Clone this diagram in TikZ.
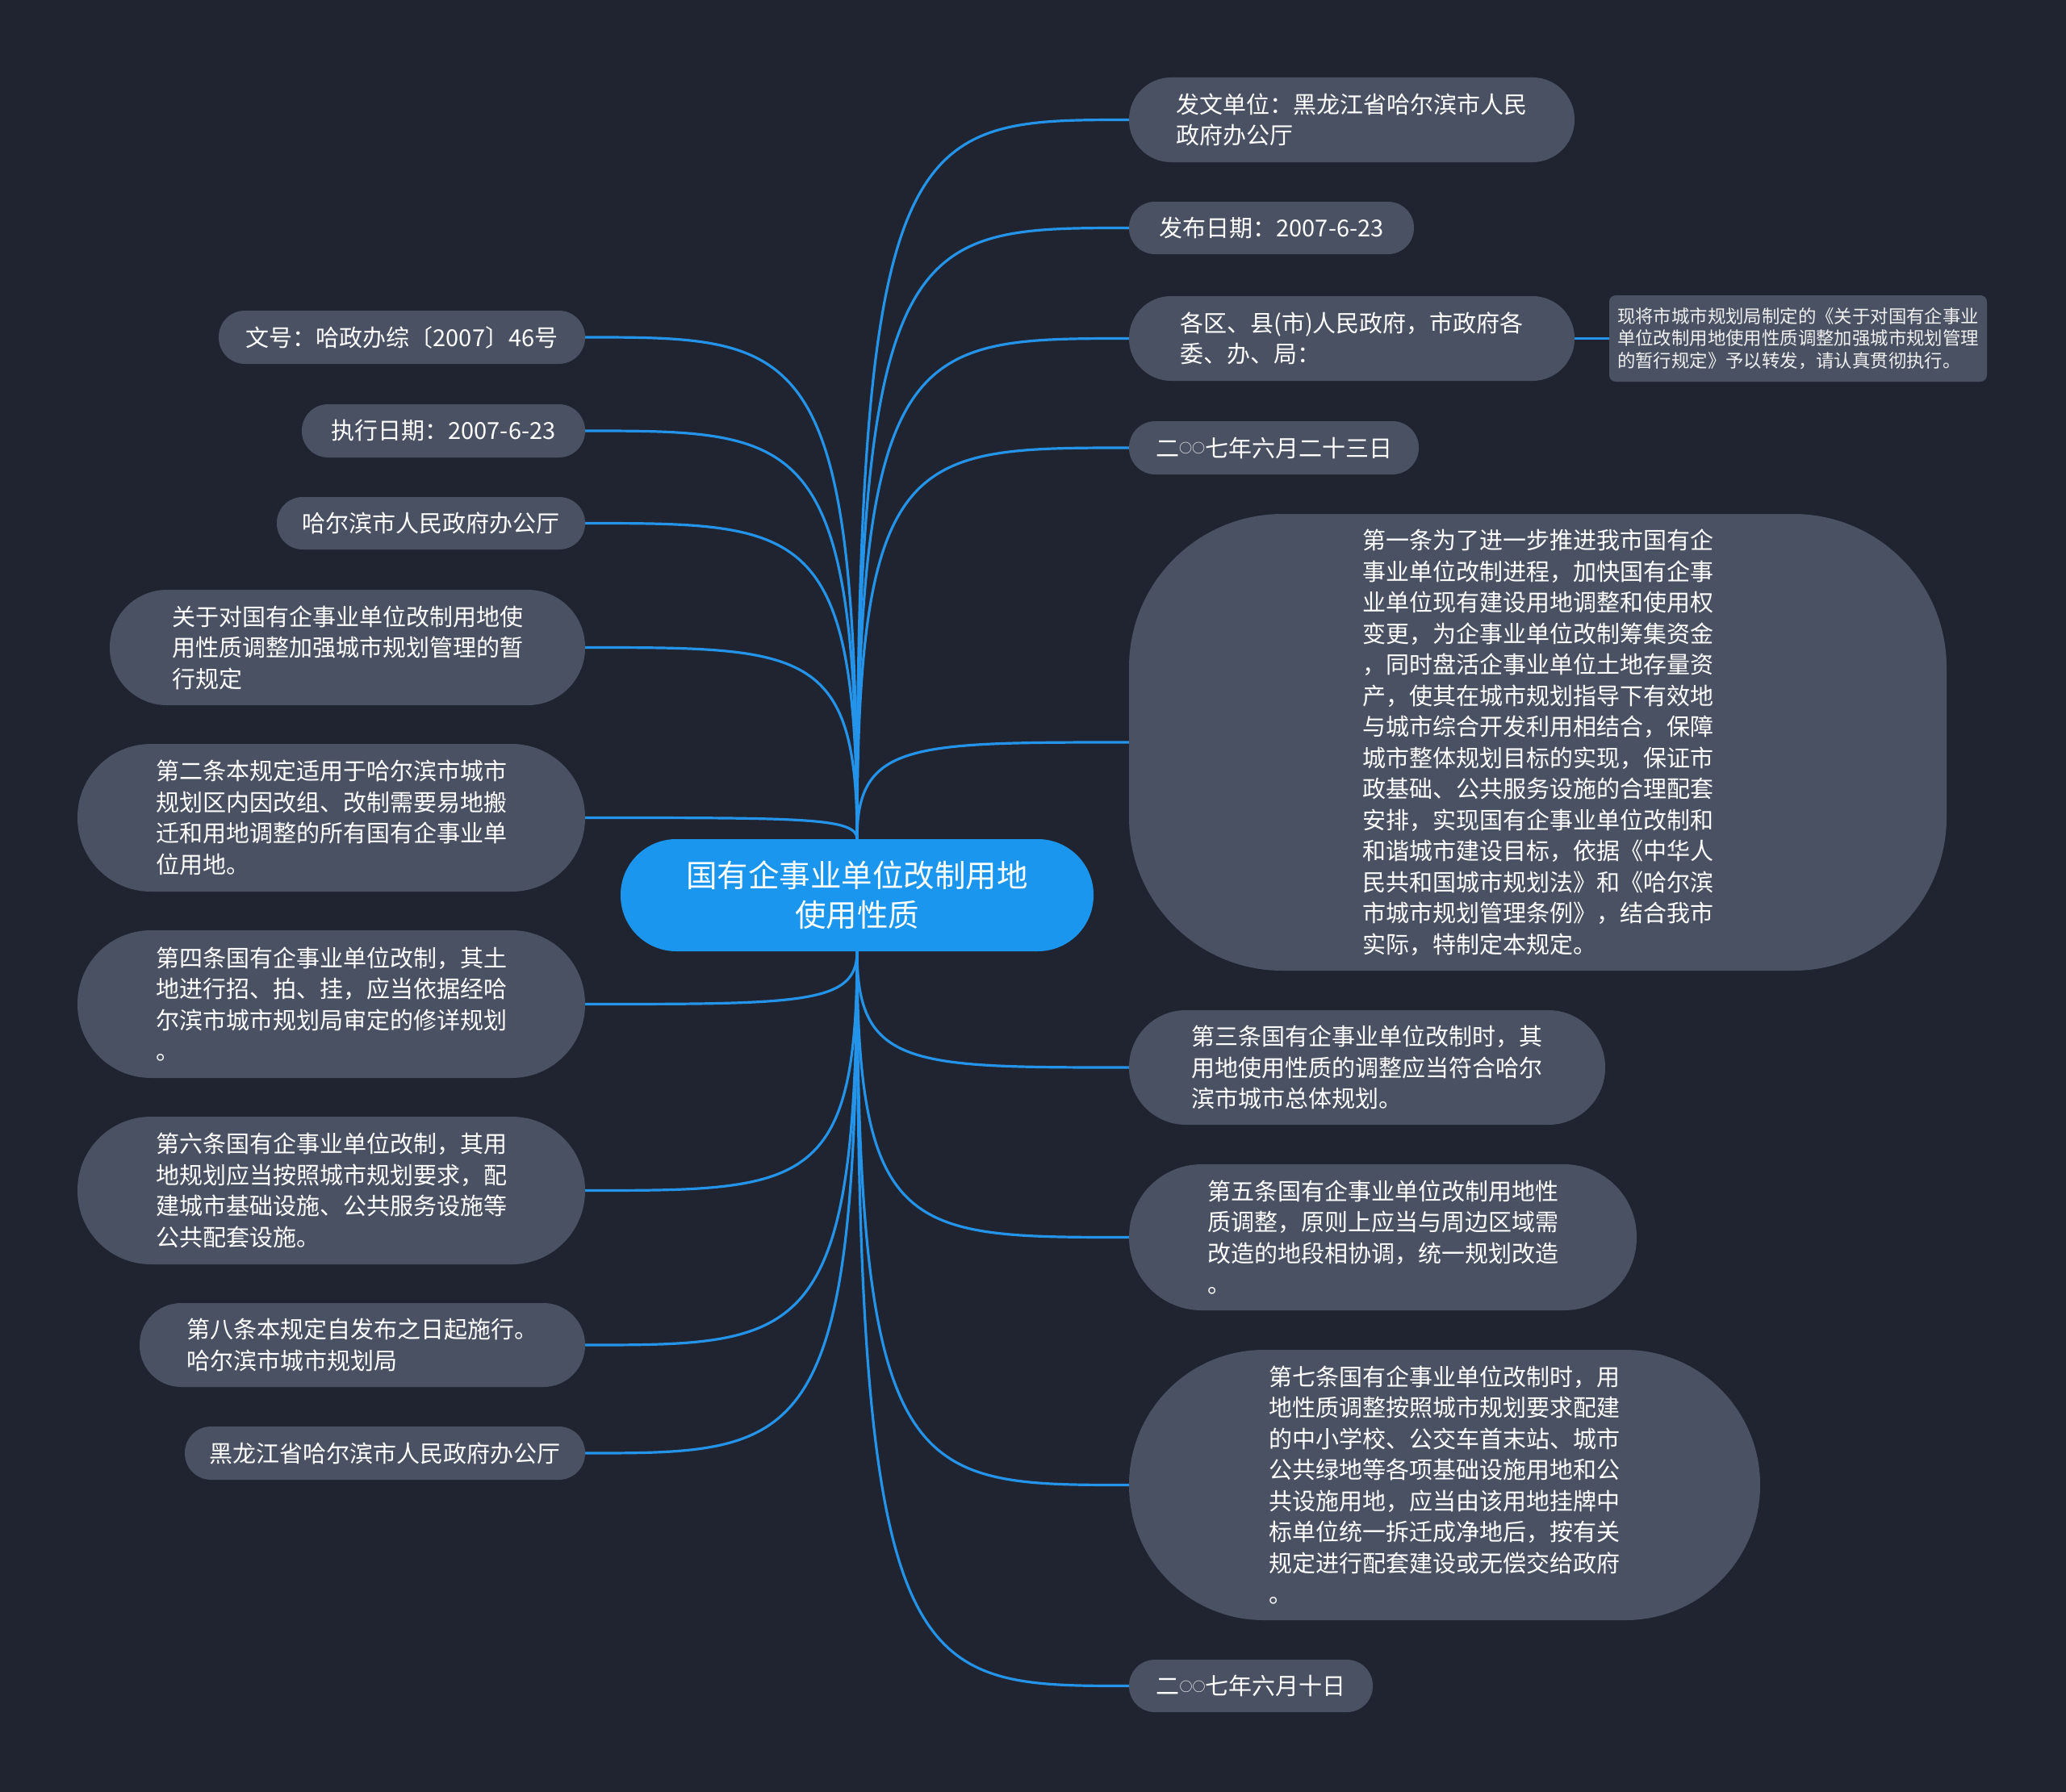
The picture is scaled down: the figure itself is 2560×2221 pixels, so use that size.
\documentclass[tikz,border=0pt]{standalone}
\usepackage{fontspec}
\setmainfont{Noto Sans CJK SC}
\usetikzlibrary{calc,backgrounds}
\definecolor{bgc}{HTML}{202430}
\definecolor{nodec}{HTML}{4A5163}
\definecolor{rootc}{HTML}{1B96EF}
\definecolor{linec}{HTML}{2394EA}
\tikzset{
 topic/.style={fill=nodec, text=white, align=left, inner sep=0pt, font=\fontsize{29}{38.5}\selectfont},
 rootnode/.style={fill=rootc, text=white, align=center, inner sep=0pt, font=\fontsize{38.5}{49}\selectfont},
 notenode/.style={fill=nodec, text=white!94!black, align=left, inner sep=0pt, rounded corners=8pt, font=\fontsize{22.4}{27.8}\selectfont},
 conn/.style={draw=linec, line width=3.2pt},
}
\newcommand\mmedge[2]{\draw[conn] (#1) .. controls (#1 |- #2) and ($(#1 |- #2)!0.2!(#2)$) .. (#2);}
\newcommand\ling{\raisebox{4.5pt}{\fontsize{16}{16}\selectfont ○}}
\begin{document}
\begin{tikzpicture}[x=1pt,y=-1pt]
\useasboundingbox (0,0) rectangle (2560,2221);
% centre
\node[rootnode, minimum width=586pt, minimum height=139pt, rounded corners=69pt] (C) at (1062,1109.5) {国有企事业单位改制用地\\使用性质};
% right side
\node[topic, minimum width=552pt, minimum height=105pt, rounded corners=52pt] (R1) at (1675,148.5) {发文单位：黑龙江省哈尔滨市人民\\政府办公厅};
\node[topic, minimum width=353pt, minimum height=65pt, rounded corners=32pt] (R2) at (1575.5,282.5) {发布日期：2007-6-23};
\node[topic, minimum width=552pt, minimum height=105pt, rounded corners=52pt] (R3) at (1675,419.5) {各区、县(市)人民政府，市政府各\\委、办、局：};
\node[notenode, minimum width=468pt, minimum height=107pt] (N) at (2228,419.5) {现将市城市规划局制定的《关于对国有企事业\\单位改制用地使用性质调整加强城市规划管理\\的暂行规定》予以转发，请认真贯彻执行。};
\node[topic, minimum width=359pt, minimum height=66pt, rounded corners=32.5pt] (R4) at (1578.5,555) {二\ling\ling 七年六月二十三日};
\node[topic, minimum width=1013pt, minimum height=566pt, rounded corners=190pt] (R5) at (1905.5,920) {第一条为了进一步推进我市国有企\\事业单位改制进程，加快国有企事\\业单位现有建设用地调整和使用权\\变更，为企事业单位改制筹集资金\\，同时盘活企事业单位土地存量资\\产，使其在城市规划指导下有效地\\与城市综合开发利用相结合，保障\\城市整体规划目标的实现，保证市\\政基础、公共服务设施的合理配套\\安排，实现国有企事业单位改制和\\和谐城市建设目标，依据《中华人\\民共和国城市规划法》和《哈尔滨\\市城市规划管理条例》，结合我市\\实际，特制定本规定。};
\node[topic, minimum width=590pt, minimum height=142pt, rounded corners=70.5pt] (R6) at (1694,1323) {第三条国有企事业单位改制时，其\\用地使用性质的调整应当符合哈尔\\滨市城市总体规划。};
\node[topic, minimum width=629pt, minimum height=181pt, rounded corners=90pt] (R7) at (1713.5,1533.5) {第五条国有企事业单位改制用地性\\质调整，原则上应当与周边区域需\\改造的地段相协调，统一规划改造\\。};
\node[topic, minimum width=782pt, minimum height=335pt, rounded corners=167pt] (R8) at (1790,1840.5) {第七条国有企事业单位改制时，用\\地性质调整按照城市规划要求配建\\的中小学校、公交车首末站、城市\\公共绿地等各项基础设施用地和公\\共设施用地，应当由该用地挂牌中\\标单位统一拆迁成净地后，按有关\\规定进行配套建设或无偿交给政府\\。};
\node[topic, minimum width=302pt, minimum height=65pt, rounded corners=32pt] (R9) at (1550,2089.5) {二\ling\ling 七年六月十日};
% left side
\node[topic, minimum width=454pt, minimum height=66pt, rounded corners=32.5pt] (L1) at (498,418) {文号：哈政办综〔2007〕46号};
\node[topic, minimum width=351pt, minimum height=66pt, rounded corners=32.5pt] (L2) at (549.5,534) {执行日期：2007-6-23};
\node[topic, minimum width=382pt, minimum height=65pt, rounded corners=32pt] (L3) at (534,648.5) {哈尔滨市人民政府办公厅};
\node[topic, minimum width=589pt, minimum height=143pt, rounded corners=71pt] (L4) at (430.5,802.5) {关于对国有企事业单位改制用地使\\用性质调整加强城市规划管理的暂\\行规定};
\node[topic, minimum width=629pt, minimum height=183pt, rounded corners=91pt] (L5) at (410.5,1013.5) {第二条本规定适用于哈尔滨市城市\\规划区内因改组、改制需要易地搬\\迁和用地调整的所有国有企事业单\\位用地。};
\node[topic, minimum width=629pt, minimum height=183pt, rounded corners=91pt] (L6) at (410.5,1244.5) {第四条国有企事业单位改制，其土\\地进行招、拍、挂，应当依据经哈\\尔滨市城市规划局审定的修详规划\\。};
\node[topic, minimum width=629pt, minimum height=183pt, rounded corners=91pt] (L7) at (410.5,1475.5) {第六条国有企事业单位改制，其用\\地规划应当按照城市规划要求，配\\建城市基础设施、公共服务设施等\\公共配套设施。};
\node[topic, minimum width=552pt, minimum height=104pt, rounded corners=51.5pt] (L8) at (449,1667) {第八条本规定自发布之日起施行。\\哈尔滨市城市规划局};
\node[topic, minimum width=496pt, minimum height=66pt, rounded corners=32.5pt] (L9) at (477,1801) {黑龙江省哈尔滨市人民政府办公厅};
\begin{scope}[on background layer]
\fill[bgc] (0,0) rectangle (2560,2221);
\mmedge{C.north}{R1.west}
\mmedge{C.north}{R2.west}
\mmedge{C.north}{R3.west}
\mmedge{C.north}{R4.west}
\mmedge{C.north}{R5.west}
\mmedge{C.south}{R6.west}
\mmedge{C.south}{R7.west}
\mmedge{C.south}{R8.west}
\mmedge{C.south}{R9.west}
\mmedge{C.north}{L1.east}
\mmedge{C.north}{L2.east}
\mmedge{C.north}{L3.east}
\mmedge{C.north}{L4.east}
\mmedge{C.north}{L5.east}
\mmedge{C.south}{L6.east}
\mmedge{C.south}{L7.east}
\mmedge{C.south}{L8.east}
\mmedge{C.south}{L9.east}
\draw[conn] (R3.east) -- (N.west);
\end{scope}
\end{tikzpicture}
\end{document}
